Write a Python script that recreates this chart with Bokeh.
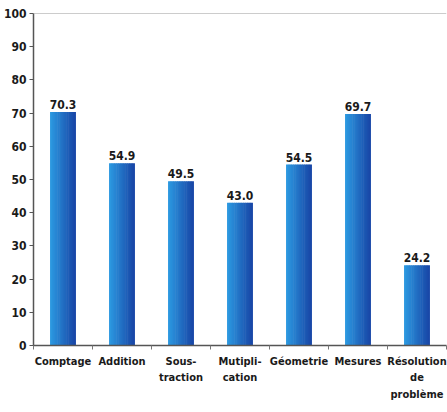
import numpy as np
from bokeh.plotting import figure
from bokeh.models import (ColumnDataSource, Range1d, LinearAxis, FixedTicker, Span)
from bokeh.core.properties import value
from bokeh.embed import file_html
from bokeh.resources import INLINE

categories = ["Comptage", "Addition", "Sous-\ntraction", "Mutipli-\ncation",
              "Géometrie", "Mesures", "Résolution\nde\nproblème"]
scores = [70.3, 54.9, 49.5, 43.0, 54.5, 69.7, 24.2]
score_labels = ["70.3", "54.9", "49.5", "43.0", "54.5", "69.7", "24.2"]
y_ticks = [0, 10, 20, 30, 40, 50, 60, 70, 80, 90, 100]

FONT = "'DejaVu Sans Condensed', 'Liberation Sans Narrow', sans-serif"

ncat = len(categories)
centers = (np.arange(ncat) + 0.5).tolist()
bounds = list(range(ncat + 1))
src = ColumnDataSource(dict(x=centers, val=scores, lab=score_labels))

p = figure(x_range=Range1d(0, ncat), y_range=Range1d(0, 100),
           frame_width=413, frame_height=332,
           min_border_left=33, min_border_top=13, min_border_right=1, min_border_bottom=50,
           output_backend="svg", toolbar_location=None, x_axis_location=None,
           background_fill_color="white", border_fill_color="white")
p.outline_line_color = None
p.xgrid.grid_line_color = None
p.ygrid.grid_line_color = None

# gradient bars (light left -> dark right), style only
c_left = np.array([0x2c, 0x98, 0xe0])
c_right = np.array([0x19, 0x48, 0xa8])
n = 14
strip_colors = ["#%02x%02x%02x" % tuple(int(v) for v in c_left + (c_right - c_left) * t)
                for t in np.linspace(0, 1, n)]
bar_w = 0.43
sw = bar_w / n
for i, c in enumerate(strip_colors):
    off = -bar_w / 2 + sw * (i + 0.5)
    p.vbar(x=[cx + off for cx in centers], top=scores, width=sw * 1.3,
           fill_color=c, line_color=None)

p.text(x="x", y="val", text="lab", source=src, text_align="center",
       text_baseline="bottom", y_offset=-3, text_font=value(FONT),
       text_font_style="bold", text_font_size="12px", text_color="#1a1a1a")

p.add_layout(Span(location=100, dimension="width", line_color="#9a9a9a", line_width=1))

# y axis
p.yaxis.ticker = FixedTicker(ticks=y_ticks)
p.yaxis.axis_line_color = "#555555"
p.yaxis.axis_line_width = 1.5
p.yaxis.major_tick_line_color = "#555555"
p.yaxis.major_tick_in = 0
p.yaxis.major_tick_out = 4
p.yaxis.minor_tick_line_color = None
p.yaxis.major_label_standoff = 3
p.yaxis.major_label_text_font = FONT
p.yaxis.major_label_text_font_style = "bold"
p.yaxis.major_label_text_font_size = "12px"
p.yaxis.major_label_text_color = "#1a1a1a"

# x axis: labels at centres, small ticks at category boundaries
x_axis = LinearAxis(ticker=FixedTicker(ticks=centers, minor_ticks=bounds))
x_axis.major_label_overrides = {c: lab for c, lab in zip(centers, categories)}
x_axis.axis_line_color = "#555555"
x_axis.axis_line_width = 1.5
x_axis.major_tick_line_color = None
x_axis.major_tick_out = 0
x_axis.major_tick_in = 0
x_axis.minor_tick_line_color = "#777777"
x_axis.minor_tick_out = 4
x_axis.minor_tick_in = 0
x_axis.major_label_standoff = 5
x_axis.major_label_text_font = FONT
x_axis.major_label_text_font_style = "bold"
x_axis.major_label_text_font_size = "11px"
x_axis.major_label_text_color = "#1a1a1a"
x_axis.major_label_text_line_height = 1.3
p.add_layout(x_axis, "below")

open("out.html", "w").write(file_html(p, INLINE))
